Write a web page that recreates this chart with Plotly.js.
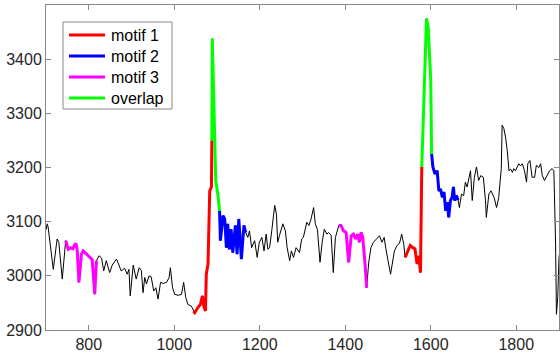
<!DOCTYPE html>
<html>
<head>
<meta charset="utf-8">
<script src="https://cdn.plot.ly/plotly-3.0.1.min.js"></script>
<style>
  html, body { margin: 0; padding: 0; background: #fff; }
  #chart { width: 560px; height: 354px; }
</style>
</head>
<body>
<div id="chart"></div>
<script>
// sample positions and values
const xs = [
  700, 703, 705, 717, 726, 730, 738, 746, 752, 758, 763, 766, 770, 773, 777, 783, 787, 795, 802, 808,
  814, 818, 824, 830, 835, 841, 849, 855, 865, 871, 876, 884, 890, 894, 897, 904, 911, 918, 923, 927,
  931, 935, 941, 946, 952, 957, 962, 968, 974, 982, 988, 991, 996, 1001, 1009, 1017, 1022, 1027, 1032, 1040,
  1045, 1048, 1055, 1061, 1066, 1069, 1073, 1075, 1079, 1083, 1087, 1088, 1089, 1097, 1102, 1106, 1108, 1114, 1118, 1122,
  1125, 1129, 1133, 1137, 1143, 1147, 1151, 1157, 1163, 1167, 1172, 1176, 1181, 1188, 1194, 1199, 1205, 1210, 1215, 1219,
  1223, 1228, 1235, 1239, 1242, 1246, 1254, 1260, 1264, 1270, 1274, 1279, 1285, 1293, 1298, 1302, 1310, 1315, 1320, 1326,
  1330, 1335, 1341, 1346, 1351, 1357, 1361, 1367, 1372, 1377, 1382, 1385, 1390, 1396, 1402, 1408, 1414, 1419, 1424, 1429,
  1433, 1437, 1441, 1447, 1450, 1455, 1460, 1466, 1472, 1480, 1486, 1491, 1495, 1502, 1506, 1515, 1521, 1527, 1532, 1537,
  1540, 1546, 1552, 1558, 1563, 1568, 1572, 1576, 1579, 1590, 1594, 1600, 1602, 1605, 1610, 1615, 1619, 1623, 1627, 1631,
  1635, 1639, 1642, 1646, 1650, 1653, 1656, 1660, 1664, 1667, 1672, 1677, 1681, 1685, 1689, 1693, 1697, 1702, 1707, 1712,
  1717, 1723, 1728, 1730, 1736, 1741, 1748, 1754, 1759, 1765, 1767, 1771, 1775, 1779, 1783, 1787, 1791, 1794, 1798, 1806,
  1810, 1814, 1819, 1824, 1827, 1832, 1837, 1843, 1847, 1853, 1857, 1861, 1866, 1872, 1878, 1884, 1888, 1892, 1894, 1897,
  1900, 1903
];
const ys = [
  3085, 3096, 3090, 3012, 3068, 3062, 2994, 3065, 3049, 3052, 3050, 3056, 3060, 3048, 2988, 3040, 3046, 3040, 3034, 3030,
  2966, 3028, 3037, 3033, 3009, 3028, 3006, 3020, 3031, 3020, 3009, 3014, 3003, 3012, 2963, 3020, 2994, 3015, 3010, 2969,
  2997, 2985, 3000, 2998, 2972, 2978, 2957, 2988, 2986, 2988, 2997, 3015, 2978, 2966, 2964, 2966, 2988, 2960, 2947, 2944,
  2935, 2932, 2941, 2947, 2963, 2944, 2935, 3003, 3022, 3157, 3164, 3250, 3438, 3176, 3150, 3120, 3065, 3111, 3105, 3052,
  3096, 3049, 3086, 3043, 3093, 3040, 3105, 3031, 3093, 3080, 3071, 3083, 3052, 3065, 3034, 3062, 3071, 3046, 3077, 3049,
  3052, 3083, 3130, 3114, 3062, 3074, 3096, 3083, 3052, 3028, 3046, 3034, 3052, 3043, 3068, 3071, 3099, 3093, 3105, 3126,
  3096, 3085, 3025, 3062, 3086, 3077, 3080, 3075, 3006, 3071, 3086, 3093, 3093, 3083, 3080, 3025, 3074, 3077, 3068, 3077,
  3062, 3080, 3071, 3015, 2978, 3025, 3052, 3062, 3068, 3074, 3062, 3071, 3050, 3020, 3003, 3046, 3056, 3060, 3077, 3058,
  3034, 3046, 3056, 3052, 3050, 3022, 3037, 3006, 3201, 3475, 3460, 3361, 3225, 3201, 3188, 3194, 3157, 3160, 3145, 3155,
  3120, 3136, 3108, 3139, 3145, 3164, 3139, 3148, 3140, 3126, 3151, 3148, 3173, 3164, 3182, 3194, 3139, 3182, 3201, 3176,
  3185, 3182, 3139, 3108, 3151, 3157, 3145, 3126, 3145, 3198, 3278, 3272, 3256, 3231, 3194, 3197, 3191, 3198, 3194, 3207,
  3203, 3207, 3195, 3173, 3207, 3213, 3182, 3182, 3204, 3200, 3207, 3185, 3176, 3185, 3194, 3198, 3194, 3059, 2929, 2960,
  3034, 3052
];

// x-ranges of the highlighted stretches
const motif1Ranges = [[1045, 1088], [1540, 1579]];
const motif2Ranges = [[1106, 1167], [1602, 1664]];
const motif3Ranges = [[746, 818], [1385, 1450]];
const overlapRanges = [[1088, 1106], [1579, 1602]];

const legendNames = ["motif 1", "motif 2", "motif 3", "overlap"];
const legendColors = ["#ff0000", "#0000ff", "#ff00ff", "#00ff00"];

const xTicks = [800, 1000, 1200, 1400, 1600, 1800];
const yTicks = [2900, 3000, 3100, 3200, 3300, 3400, 3500];

const W = 560, H = 354;
const M = { l: 46, r: 1, t: 5, b: 24 };
const FONT = "Liberation Sans, Arial, sans-serif";

// pull the points inside each range out of the main series, null between pieces
function pick(ranges) {
  const x = [], y = [];
  ranges.forEach((r, i) => {
    if (i > 0) { x.push(null); y.push(null); }
    xs.forEach((v, k) => {
      if (v >= r[0] && v <= r[1]) { x.push(v); y.push(ys[k]); }
    });
  });
  return { x, y };
}

const seg = (name, ranges, color) => {
  const p = pick(ranges);
  return {
    type: "scatter", mode: "lines", name,
    x: p.x, y: p.y,
    line: { color, width: 3 },
    connectgaps: false, showlegend: false,
    hoverinfo: "skip"
  };
};

const traces = [
  {
    type: "scatter", mode: "lines",
    x: xs, y: ys,
    line: { color: "#000", width: 1 },
    showlegend: false, hoverinfo: "skip"
  },
  seg(legendNames[0], motif1Ranges, legendColors[0]),
  seg(legendNames[1], motif2Ranges, legendColors[1]),
  seg(legendNames[2], motif3Ranges, legendColors[2]),
  seg(legendNames[3], overlapRanges, legendColors[3])
];

// legend box drawn by hand (MATLAB style: long line samples, tight box)
const pw = W - M.l - M.r, ph = H - M.t - M.b;
const px = v => (v - M.l) / pw;
const py = v => 1 - (v - M.t) / ph;

const shapes = [{
  type: "rect", xref: "paper", yref: "paper",
  x0: px(63), x1: px(172), y0: py(22), y1: py(109),
  line: { color: "#888", width: 1 }, fillcolor: "#fff", layer: "above"
}];
const annotations = [];
legendNames.forEach((name, i) => {
  const rowY = 35 + i * 21;
  shapes.push({
    type: "line", xref: "paper", yref: "paper",
    x0: px(69), x1: px(105), y0: py(rowY), y1: py(rowY),
    line: { color: legendColors[i], width: 3 }, layer: "above"
  });
  annotations.push({
    text: name, xref: "paper", yref: "paper",
    x: px(109), y: py(rowY), xanchor: "left", yanchor: "middle",
    showarrow: false, font: { family: FONT, size: 16, color: "#000" }
  });
});

const axisBase = {
  showline: true, linecolor: "#888", linewidth: 1, mirror: "ticks",
  ticks: "inside", ticklen: 5, tickcolor: "#888", tickwidth: 1,
  showgrid: false, zeroline: false,
  tickfont: { family: FONT, size: 16, color: "#262626" }
};

const layout = {
  width: W, height: H,
  margin: M,
  paper_bgcolor: "#fff", plot_bgcolor: "#fff",
  showlegend: false,
  shapes, annotations,
  xaxis: { ...axisBase, range: [700, 1900], tickvals: xTicks },
  yaxis: { ...axisBase, range: [2900, 3500], tickvals: yTicks }
};

Plotly.newPlot("chart", traces, layout, { staticPlot: true, displayModeBar: false });
</script>
</body>
</html>
